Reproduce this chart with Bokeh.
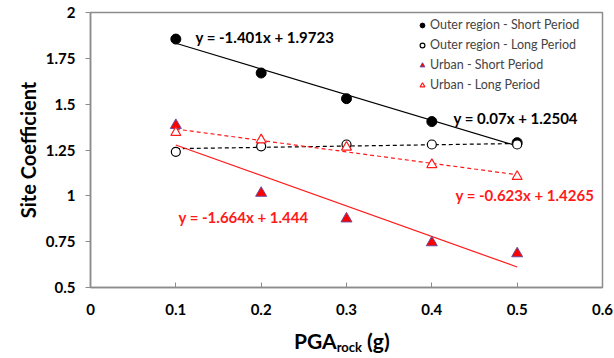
from bokeh.plotting import figure
from bokeh.models import Range1d, Label, Legend, LegendItem, FixedTicker, Div
from bokeh.layouts import column
from bokeh.embed import file_html
from bokeh.resources import INLINE
import numpy as np

pga = [0.1, 0.2, 0.3, 0.4, 0.5]
outer_short = [1.855, 1.67, 1.53, 1.405, 1.29]
outer_long = [1.24, 1.27, 1.28, 1.28, 1.28]
urban_short = [1.385, 1.015, 0.875, 0.745, 0.685]
urban_long = [1.345, 1.305, 1.265, 1.17, 1.105]

# trendline coefficients (slope, intercept) as printed on the chart
fit_outer_short = [-1.401, 1.9723]
fit_outer_long = [0.07, 1.2504]
fit_urban_short = [-1.664, 1.444]
fit_urban_long = [-0.623, 1.4265]

x_ticks = [0, 0.1, 0.2, 0.3, 0.4, 0.5, 0.6]
y_ticks = [0.5, 0.75, 1, 1.25, 1.5, 1.75, 2]

FONT = "Lato"
GRAY = "#8c8c8c"
RED = "#ff1a1a"

p = figure(width=614, height=332, output_backend="svg", toolbar_location=None,
           x_range=Range1d(0, 0.6), y_range=Range1d(0.5, 2),
           min_border_left=90, min_border_right=12, min_border_top=12, min_border_bottom=45)
p.xgrid.visible = False
p.ygrid.visible = False
p.outline_line_color = GRAY
p.outline_line_width = 1.5
p.background_fill_color = "white"

for ax in (p.xaxis[0], p.yaxis[0]):
    ax.axis_line_color = GRAY
    ax.axis_line_width = 1.5
    ax.major_tick_line_color = GRAY
    ax.minor_tick_line_color = None
    ax.major_label_text_font = FONT
    ax.major_label_text_font_style = "bold"
    ax.major_label_text_font_size = "15px"
    ax.major_label_text_color = "black"

p.xaxis.ticker = FixedTicker(ticks=x_ticks)
p.yaxis.ticker = FixedTicker(ticks=y_ticks)
p.xaxis.major_label_overrides = {0: "0", 0.1: "0.1", 0.2: "0.2", 0.3: "0.3", 0.4: "0.4", 0.5: "0.5", 0.6: "0.6"}
p.yaxis.major_label_overrides = {0.5: "0.5", 0.75: "0.75", 1: "1", 1.25: "1.25", 1.5: "1.5", 1.75: "1.75", 2: "2"}
p.xaxis.major_tick_in = 5
p.xaxis.major_tick_out = 0
p.xaxis.major_label_standoff = 16
p.yaxis.major_tick_in = 0
p.yaxis.major_tick_out = 5
p.yaxis.major_label_standoff = 10

p.yaxis.axis_label = "Site Coefficient"
p.yaxis.axis_label_text_font = FONT
p.yaxis.axis_label_text_font_style = "bold"
p.yaxis.axis_label_text_font_size = "20px"
p.yaxis.axis_label_text_color = "black"
p.yaxis.axis_label_standoff = 3

xs = np.array([pga[0], pga[-1]])

def fit(c):
    return c[0] * xs + c[1]

p.line(xs, fit(fit_outer_short), line_color="black", line_width=1.2)
p.line(xs, fit(fit_outer_long), line_color="black", line_width=1.2, line_dash="4 3")
p.line(xs, fit(fit_urban_short), line_color=RED, line_width=1.2)
p.line(xs, fit(fit_urban_long), line_color=RED, line_width=1.2, line_dash="4 3")

r1 = p.scatter(pga, outer_short, marker="circle", size=10, fill_color="black", line_color="black")
r2 = p.scatter(pga, outer_long, marker="circle", size=9, fill_color="white", line_color="black", line_width=1.2)
r3 = p.scatter(pga, urban_short, marker="triangle", size=11, fill_color="#ff0000", line_color="#6a4a9a", line_width=1)
r4 = p.scatter(pga, urban_long, marker="triangle", size=10, fill_color="white", line_color=RED, line_width=1.2)

legend = Legend(items=[
    LegendItem(label="Outer region - Short Period", renderers=[r1]),
    LegendItem(label="Outer region - Long Period", renderers=[r2]),
    LegendItem(label="Urban - Short Period", renderers=[r3]),
    LegendItem(label="Urban - Long Period", renderers=[r4]),
], location=(326, 195))
legend.border_line_color = None
legend.background_fill_alpha = 0
legend.label_text_font = FONT
legend.label_text_font_size = "12.5px"
legend.label_standoff = 2
legend.glyph_width = 12
legend.glyph_height = 14
legend.spacing = 5
legend.padding = 2
legend.margin = 0
legend.label_height = 15
p.add_layout(legend, "center")

def eq(x, y, txt, color):
    p.add_layout(Label(x=x, y=y, x_units="screen", y_units="screen", text=txt,
                       text_font=FONT, text_font_style="bold", text_font_size="15px",
                       text_color=color, text_baseline="middle"))

# screen coordinates relative to the plot frame
eq(105, 251, "y = -1.401x + 1.9723", "black")
eq(363, 170, "y = 0.07x + 1.2504", "black")
eq(88, 71, "y = -1.664x + 1.444", RED)
eq(365, 93, "y = -0.623x + 1.4265", RED)

title_x = Div(
    text='<div style="position:absolute; left:294px; top:-6px; white-space:nowrap; '
         'font-family:Lato; font-weight:bold; font-size:21px; color:black;">'
         'PGA<sub style="font-size:13px; vertical-align:-3px;">rock</sub> (g)</div>',
    width=614, height=26, margin=(0, 0, 0, 0))

layout = column(p, title_x, spacing=0)

open("out.html", "w").write(file_html(layout, INLINE))
